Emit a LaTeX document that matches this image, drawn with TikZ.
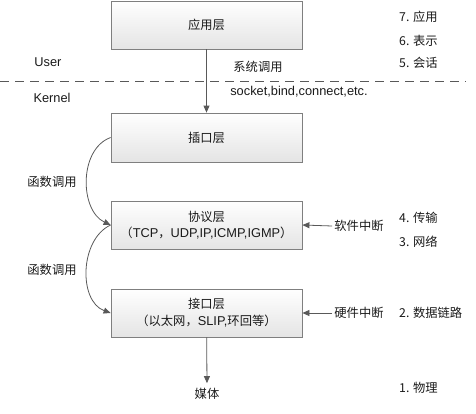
\documentclass[tikz,border=0pt]{standalone}
\usepackage{fontspec}
\setmainfont{Liberation Sans}
\newfontfamily\cjk[Scale=0.96]{Noto Sans CJK SC}
\usetikzlibrary{arrows.meta}
\definecolor{linegray}{HTML}{595959}
\definecolor{boxgray}{HTML}{7F7F7F}
\definecolor{boxbot}{HTML}{E4E4E4}
\definecolor{txt}{HTML}{1A1A1A}
\begin{document}
\begin{tikzpicture}[x=1pt,y=-1pt,
  font=\fontsize{12.8}{16}\selectfont, text=txt,
  layer/.style={draw=boxgray, line width=0.8pt, top color=white, bottom color=boxbot,
    minimum width=191pt, minimum height=48pt, inner sep=0pt, align=center},
  conn/.style={draw=linegray, line width=0.8pt, -{Triangle[length=7pt,width=6pt]}},
  dashline/.style={draw=linegray, line width=0.8pt, dash pattern=on 9pt off 6pt},
  rlbl/.style={anchor=west, inner sep=0pt},
  lbl/.style={inner sep=2pt}]
\useasboundingbox (0,0) rectangle (476,413);

% layer boxes
\node[layer] (app) at (206.5,25) {\cjk 应用层};
\node[layer, minimum height=49pt] (sock) at (206.5,137.5) {\cjk 插口层};
\node[layer, execute at begin node={\baselineskip=16pt}] (proto) at (206.5,225)
  {{\cjk 协议层}\\{\cjk （}TCP{\cjk ，}UDP,IP,ICMP,IGMP{\cjk ）}};
\node[layer, execute at begin node={\baselineskip=17pt}] (iface) at (206.5,313)
  {{\cjk 接口层}\\{\cjk （以太网，}SLIP,{\cjk 环回等）}};

% user / kernel separation
\coordinate (dl) at (0,81);
\coordinate (dr) at (466,81);
\draw[dashline] (dl) -- (dr);
\node[lbl] (user) at (48,62) {User};
\node[lbl] (kernel) at (52,98) {Kernel};
\node[lbl] (sys) at (258,67) {\cjk 系统调用};
\node[lbl] (api) at (299,92) {socket,bind,connect,etc.};

% OSI layer labels
\node[rlbl] (l7) at (399,17) {\cjk 7. 应用};
\node[rlbl] (l6) at (399,41) {\cjk 6. 表示};
\node[rlbl] (l5) at (399,63) {\cjk 5. 会话};
\node[rlbl] (l4) at (399,218) {\cjk 4. 传输};
\node[rlbl] (l3) at (399,242) {\cjk 3. 网络};
\node[rlbl] (l2) at (399,313) {\cjk 2. 数据链路};
\node[rlbl] (l1) at (399,388) {\cjk 1. 物理};

% interrupts, calls, media
\node[lbl] (soft) at (359,226) {\cjk 软件中断};
\node[lbl] (hard) at (359,313) {\cjk 硬件中断};
\node[lbl] (f1) at (52,182) {\cjk 函数调用};
\node[lbl] (f2) at (52,270) {\cjk 函数调用};
\node[lbl] (media) at (207,394) {\cjk 媒体};

% connectors
\draw[conn] (app) -- (sock);
\draw[conn] (sock.west) to[out=200,in=155] (proto.west);
\draw[conn] (proto.west) to[out=205,in=160] (iface.west);
\draw[conn] (soft.west) -- (proto.east);
\draw[conn] (hard.west) -- (iface.east);
\draw[conn, shorten >=3pt] (iface) -- (media.north);
\end{tikzpicture}
\end{document}
